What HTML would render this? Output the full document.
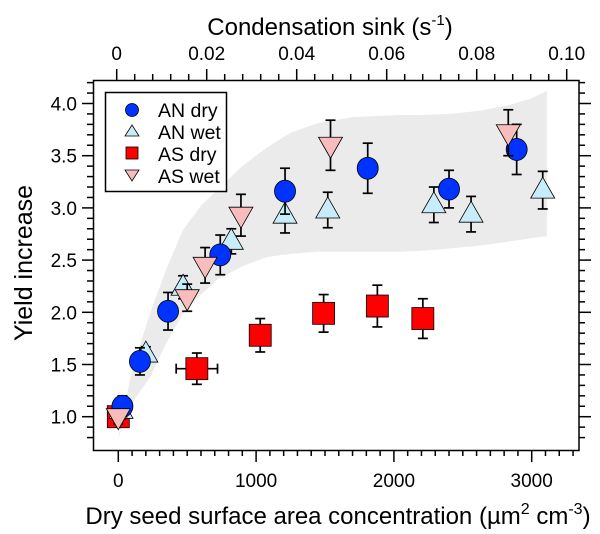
<!DOCTYPE html>
<html><head><meta charset="utf-8">
<style>
html,body{margin:0;padding:0;background:#fff;}
svg{display:block;font-family:"Liberation Sans",Arial,sans-serif;}
</style></head>
<body>
<svg id="chart" width="600" height="534" viewBox="0 0 600 534" xmlns="http://www.w3.org/2000/svg">
<g id="band"></g>
<g id="marks"></g>
<rect x="93.5" y="80.5" width="485.5" height="370" fill="none" stroke="#000" stroke-width="1.5"/>
<g id="axes"></g>
<text x="330" y="35" font-size="24" text-anchor="middle">Condensation sink (s<tspan dy="-10" font-size="15">-1</tspan><tspan dy="10">)</tspan></text>
<text x="338" y="524" font-size="24" text-anchor="middle">Dry seed surface area concentration (µm<tspan dy="-10" font-size="16">2</tspan><tspan dy="10"> cm</tspan><tspan dy="-10" font-size="16">-3</tspan><tspan dy="10">)</tspan></text>
<text x="0" y="0" font-size="25" text-anchor="middle" transform="translate(32,263) rotate(-90)">Yield increase</text>
<g>
<rect x="105.5" y="92.5" width="121" height="99" fill="#fff" stroke="#000" stroke-width="1.5"/>
<circle cx="132" cy="110" r="6.5" fill="#0033ff" stroke="#000" stroke-width="0.8"/>
<path d="M132,125 L139,136 L125,136 Z" fill="#c8ecfa" stroke="#000" stroke-width="0.8"/>
<rect x="126" y="147" width="12" height="12" fill="#ff0000" stroke="#000" stroke-width="0.8"/>
<path d="M125,170 L139,170 L132,181 Z" fill="#f9bcbc" stroke="#000" stroke-width="0.8"/>
<text x="158" y="117" font-size="19.5">AN dry</text>
<text x="158" y="139" font-size="19.5">AN wet</text>
<text x="158" y="161" font-size="19.5">AS dry</text>
<text x="158" y="183" font-size="19.5">AS wet</text>
</g>
</svg>
<script>
const xTicks=[0,1000,2000,3000];
const topTicks=[0,0.02,0.04,0.06,0.08,0.10];
const topTickLabels=["0","0.02","0.04","0.06","0.08","0.10"];
const yTicks=[1.0,1.5,2.0,2.5,3.0,3.5,4.0];
const yTickLabels=["1.0","1.5","2.0","2.5","3.0","3.5","4.0"];

const anDryX=[30,157,361,740,1210,1810,2400,2891];
const anDryY=[1.10,1.53,2.01,2.55,3.16,3.38,3.18,3.56];
const anDryErr=[0.10,0.13,0.18,0.19,0.22,0.24,0.18,0.24];
const anWetX=[20,200,470,820,1210,1520,2290,2560,3080];
const anWetY=[1.06,1.60,2.24,2.68,2.93,2.98,3.03,2.94,3.17];
const anWetErr=[0.08,0.07,0.11,0.12,0.17,0.17,0.17,0.17,0.18];
const asDryX=[0,570,1030,1490,1880,2210];
const asDryY=[1.00,1.46,1.78,1.99,2.06,1.94];
const asDryErr=[0.08,0.15,0.16,0.18,0.20,0.19];
const asDryXErr=[0,150,0,0,0,0];
const asWetX=[0,500,630,890,1540,2830];
const asWetY=[1.00,2.14,2.45,2.93,3.60,3.72];
const asWetErr=[0.07,0.13,0.17,0.20,0.24,0.22];
const bandX=[0,100,230,350,470,600,716,900,1080,1250,1442,1700,2044,2200,2400,2625,2850,3000,3110];
const bandUpper=[0.80,1.45,1.99,2.42,2.79,3.02,3.17,3.40,3.58,3.72,3.81,3.87,3.89,3.89,3.90,3.93,3.99,4.05,4.12];
const bandLower=[0.80,1.13,1.38,1.71,1.99,2.17,2.31,2.44,2.53,2.56,2.58,2.58,2.58,2.59,2.61,2.64,2.68,2.71,2.73];

const NS="http://www.w3.org/2000/svg";
const X0=118.3, XS=0.1378, TX=116.7, TS=4500, Y1=416.7, YS=104.4;
function sx(v){return X0+v*XS;}
function tx(v){return TX+v*TS;}
function sy(v){return Y1-(v-1)*YS;}
function mk(tag,attrs,parent){const e=document.createElementNS(NS,tag);for(const k in attrs)e.setAttribute(k,attrs[k]);parent.appendChild(e);return e;}

// band
const band=document.getElementById('band');
let d='M'+bandX.map((x,i)=>sx(x)+','+sy(bandUpper[i])).join(' L');
for(let i=bandX.length-1;i>=0;i--)d+=' L'+sx(bandX[i])+','+sy(bandLower[i]);
const bp=mk('path',{d:d+' Z',fill:'#ebebeb','stroke-linejoin':'round'},band);



// axes
const ax=document.getElementById('axes');
const st={stroke:'#000','stroke-width':1.5};
for(let v=0;v<=3300;v+=100){const major=v%1000===0;const l=mk('line',Object.assign({x1:sx(v),x2:sx(v),y1:450.5,y2:major?462:456},st),ax);

}
xTicks.forEach(v=>{const t=mk('text',{x:sx(v),y:487,'font-size':19,'text-anchor':'middle'},ax);t.textContent=String(v);

});
for(let i=0;i<=25;i++){const v=i*0.004;const major=i%5===0;const l=mk('line',Object.assign({x1:tx(v),x2:tx(v),y1:80.5,y2:major?69:74},st),ax);

}
topTicks.forEach((v,i)=>{const t=mk('text',{x:tx(v),y:60,'font-size':19,'text-anchor':'middle'},ax);t.textContent=topTickLabels[i];

});
for(let i=8;i<=42;i++){const v=i/10;const yy=sy(v);if(yy<80||yy>450)continue;const major=i%5===0;
const l=mk('line',Object.assign({x1:93.5,x2:major?82:87,y1:yy,y2:yy},st),ax);


const r=mk('line',Object.assign({x1:579,x2:major?591:585,y1:yy,y2:yy},st),ax);

}
yTicks.forEach((v,i)=>{const t=mk('text',{x:77,y:sy(v)+7,'font-size':19,'text-anchor':'end'},ax);t.textContent=yTickLabels[i];

});

// marks
const g=document.getElementById('marks');
function errbar(x,y,e,xe){const eg=mk('g',{stroke:'#000','stroke-width':1.7,fill:'none'},g);


const cx=sx(x),t=sy(y+e),b=sy(y-e);
mk('line',{x1:cx,x2:cx,y1:t,y2:b},eg);mk('line',{x1:cx-5,x2:cx+5,y1:t,y2:t},eg);mk('line',{x1:cx-5,x2:cx+5,y1:b,y2:b},eg);
if(xe){const l=sx(x-xe),r=sx(x+xe),cy=sy(y);mk('line',{x1:l,x2:r,y1:cy,y2:cy},eg);mk('line',{x1:l,x2:l,y1:cy-5,y2:cy+5},eg);mk('line',{x1:r,x2:r,y1:cy-5,y2:cy+5},eg);}}
const ms={stroke:'#000','stroke-width':0.8};
asDryX.forEach((x,i)=>{errbar(x,asDryY[i],asDryErr[i],asDryXErr[i]);const c=sx(x),y=sy(asDryY[i]);
const m=mk('rect',Object.assign({x:c-11,y:y-11,width:22,height:22,fill:'#ff0000'},ms),g);

});
anWetX.forEach((x,i)=>{errbar(x,anWetY[i],anWetErr[i]);const c=sx(x),y=sy(anWetY[i]);
const m=mk('path',Object.assign({d:`M${c},${y-13} L${c+12},${y+8} L${c-12},${y+8} Z`,fill:'#c8ecfa'},ms),g);

});
anDryX.forEach((x,i)=>{errbar(x,anDryY[i],anDryErr[i]);
const m=mk('ellipse',Object.assign({cx:sx(x),cy:sy(anDryY[i]),rx:10.5,ry:11,fill:'#0033ff'},ms),g);

});
asWetX.forEach((x,i)=>{errbar(x,asWetY[i],asWetErr[i]);const c=sx(x),y=sy(asWetY[i]);
const m=mk('path',Object.assign({d:`M${c-12},${y-8} L${c+12},${y-8} L${c},${y+13} Z`,fill:'#f9bcbc'},ms),g);

});
</script>
</body></html>
